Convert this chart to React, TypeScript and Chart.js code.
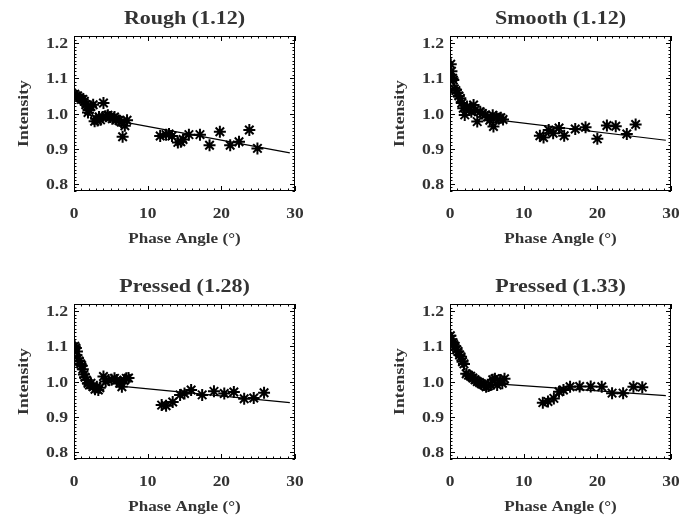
import React, { useEffect, useRef } from "react";
import { Chart, registerables } from "chart.js";

Chart.register(...registerables);

// ---------- data ----------
const X_TICKS = [0, 10, 20, 30];
const Y_TICKS = [0.8, 0.9, 1.0, 1.1, 1.2];
const X_TITLE = "Phase Angle (°)";
const Y_TITLE = "Intensity";

const roughTitle = "Rough (1.12)";
const roughX = [0.1, 0.3, 0.5, 0.8, 1.0, 1.2, 1.4, 1.6, 1.8, 1.9, 2.0, 2.3, 2.6, 2.8, 3.0, 3.2, 3.4, 3.6, 3.9, 4.0, 4.3, 4.6, 4.9, 5.2, 5.5, 5.8, 6.1, 6.4, 6.6, 6.9, 7.2, 11.7, 12.5, 12.9, 13.3, 14.1, 14.5, 14.8, 15.6, 17.1, 18.4, 19.8, 21.2, 22.4, 23.8, 24.9];
const roughY = [1.055, 1.05, 1.05, 1.045, 1.04, 1.04, 1.035, 1.025, 1.02, 1.003, 1.01, 1.02, 1.025, 0.978, 0.985, 0.98, 0.99, 0.982, 0.99, 1.03, 0.992, 0.995, 0.99, 0.985, 0.99, 0.983, 0.98, 0.976, 0.934, 0.965, 0.981, 0.936, 0.94, 0.942, 0.936, 0.918, 0.92, 0.926, 0.94, 0.94, 0.91, 0.948, 0.91, 0.92, 0.953, 0.901];
const roughFitX = [7.2, 29.3];
const roughFitY = [0.974, 0.888];

const smoothTitle = "Smooth (1.12)";
const smoothX = [0.1, 0.2, 0.35, 0.45, 0.6, 0.8, 1.0, 1.2, 1.4, 1.6, 1.8, 2.0, 2.3, 2.6, 2.9, 3.2, 3.4, 3.7, 4.1, 4.4, 4.8, 5.1, 5.4, 5.8, 5.9, 6.3, 6.6, 6.9, 7.2, 12.2, 12.7, 13.4, 14.0, 14.8, 15.5, 17.0, 18.4, 20.0, 21.3, 22.5, 24.0, 25.2];
const smoothY = [1.14, 1.12, 1.1, 1.095, 1.07, 1.065, 1.058, 1.05, 1.043, 1.03, 1.015, 0.996, 1.02, 1.01, 1.005, 1.024, 1.01, 0.977, 1.005, 1.0, 0.996, 0.99, 0.981, 0.995, 0.963, 0.99, 0.985, 0.988, 0.983, 0.937, 0.932, 0.953, 0.944, 0.959, 0.937, 0.956, 0.961, 0.928, 0.966, 0.964, 0.942, 0.969];
const smoothFitX = [7.2, 29.3];
const smoothFitY = [0.98, 0.924];

const p128Title = "Pressed (1.28)";
const p128X = [0.1, 0.25, 0.4, 0.55, 0.7, 0.9, 1.05, 1.2, 1.35, 1.5, 1.7, 1.9, 2.1, 2.3, 2.6, 2.85, 3.1, 3.3, 3.5, 4.0, 4.3, 4.7, 5.1, 5.5, 5.8, 6.2, 6.5, 6.8, 7.1, 7.4, 11.9, 12.5, 13.4, 14.4, 15.0, 15.9, 17.4, 19.0, 20.4, 21.7, 23.1, 24.4, 25.8];
const p128Y = [1.1, 1.095, 1.085, 1.065, 1.058, 1.05, 1.045, 1.035, 1.02, 1.012, 1.004, 0.995, 0.99, 0.995, 0.985, 0.978, 0.985, 0.976, 0.982, 1.014, 1.0, 1.004, 1.005, 1.009, 1.004, 0.995, 0.985, 1.003, 1.009, 1.01, 0.933, 0.931, 0.942, 0.962, 0.966, 0.976, 0.962, 0.972, 0.966, 0.97, 0.951, 0.953, 0.968];
const p128FitX = [7.3, 29.3];
const p128FitY = [0.985, 0.94];

const p133Title = "Pressed (1.33)";
const p133X = [0.05, 0.2, 0.35, 0.5, 0.7, 0.9, 1.1, 1.3, 1.5, 1.7, 1.9, 2.2, 2.5, 2.8, 3.1, 3.4, 3.7, 4.0, 4.3, 4.6, 4.9, 5.2, 5.5, 5.8, 6.1, 6.4, 6.8, 7.1, 7.4, 12.6, 13.3, 14.1, 14.8, 15.4, 16.3, 17.6, 19.1, 20.6, 22.0, 23.5, 24.9, 26.1];
const p133Y = [1.13, 1.12, 1.11, 1.105, 1.1, 1.09, 1.085, 1.075, 1.07, 1.056, 1.05, 1.022, 1.018, 1.015, 1.01, 1.005, 1.0, 0.997, 0.993, 0.99, 0.985, 0.987, 0.99, 1.005, 1.008, 0.99, 1.004, 0.995, 1.008, 0.94, 0.943, 0.952, 0.971, 0.976, 0.985, 0.986, 0.986, 0.985, 0.967, 0.967, 0.985, 0.984];
const p133FitX = [7.4, 29.3];
const p133FitY = [0.992, 0.96];

const X_MIN = 0;
const X_MAX = 30;
const Y_MIN = 0.78;
const Y_MAX = 1.22;

// ---------- drawing helpers ----------
const FONT = '"Liberation Serif", "Times New Roman", serif';
const TEXT_COLOR = "#333";

function stretchText(
  ctx: CanvasRenderingContext2D,
  s: string,
  x: number,
  y: number,
  size: number,
  sx: number,
  align: CanvasTextAlign,
  angle = 0
) {
  ctx.save();
  ctx.translate(x, y);
  if (angle) ctx.rotate(angle);
  ctx.scale(sx, 1);
  ctx.font = `bold ${size}px ${FONT}`;
  ctx.fillStyle = TEXT_COLOR;
  ctx.textAlign = align;
  ctx.textBaseline = "alphabetic";
  ctx.fillText(s, 0, 0);
  ctx.restore();
}

const decorPlugin = {
  id: "decor",
  afterDraw(chart: any) {
    const ctx: CanvasRenderingContext2D = chart.ctx;
    const a = chart.chartArea;
    const xs = chart.scales.x;
    const ys = chart.scales.y;
    const title: string = chart.options.plugins.decor.title;
    ctx.save();
    ctx.strokeStyle = "#000";
    ctx.lineWidth = 1;
    ctx.strokeRect(a.left + 0.5, a.top + 0.5, a.right - a.left - 1, a.bottom - a.top - 1);

    ctx.beginPath();
    for (let v = X_MIN; v <= X_MAX + 1e-9; v += 1) {
      const px = Math.round(xs.getPixelForValue(v)) + 0.5;
      const major = X_TICKS.some((t) => Math.abs(t - v) < 1e-6);
      const len = major ? 5 : 2.5;
      ctx.moveTo(px, a.bottom);
      ctx.lineTo(px, a.bottom - len);
      ctx.moveTo(px, a.top);
      ctx.lineTo(px, a.top + len);
    }
    for (let i = 0; i <= Math.round((Y_MAX - Y_MIN) / 0.01); i++) {
      const v = Y_MIN + i * 0.01;
      const py = Math.round(ys.getPixelForValue(v)) + 0.5;
      const major = Y_TICKS.some((t) => Math.abs(t - v) < 1e-6);
      const len = major ? 5 : 2.5;
      ctx.moveTo(a.left, py);
      ctx.lineTo(a.left + len, py);
      ctx.moveTo(a.right, py);
      ctx.lineTo(a.right - len, py);
    }
    ctx.stroke();
    ctx.restore();

    for (const t of Y_TICKS) {
      stretchText(ctx, t.toFixed(1), a.left - 6, ys.getPixelForValue(t) + 5, 14.5, 1.22, "right");
    }
    for (const t of X_TICKS) {
      stretchText(ctx, String(t), xs.getPixelForValue(t), a.bottom + 27, 14.5, 1.2, "center");
    }
    const cx = (a.left + a.right) / 2;
    const cy = (a.top + a.bottom) / 2;
    stretchText(ctx, X_TITLE, cx, a.bottom + 52, 14.5, 1.18, "center");
    stretchText(ctx, Y_TITLE, a.left - 46, cy, 14.5, 1.22, "center", -Math.PI / 2);
    stretchText(ctx, title, cx, a.top - 12, 19, 1.16, "center");
  },
};

type PanelProps = {
  title: string;
  xs: number[];
  ys: number[];
  fitX: number[];
  fitY: number[];
  left: number;
  top: number;
};

function Panel({ title, xs, ys, fitX, fitY, left, top }: PanelProps) {
  const ref = useRef<HTMLCanvasElement | null>(null);
  useEffect(() => {
    if (!ref.current) return;
    const chart = new Chart(ref.current, {
      type: "scatter",
      data: {
        datasets: [
          {
            data: xs.map((x, i) => ({ x, y: ys[i] })),
            pointStyle: "star",
            pointRadius: 6,
            pointBorderWidth: 2,
            borderColor: "#000",
            backgroundColor: "#000",
            showLine: false,
          },
          {
            data: fitX.map((x, i) => ({ x, y: fitY[i] })),
            showLine: true,
            pointRadius: 0,
            borderColor: "#000",
            borderWidth: 1.2,
            fill: false,
          },
        ],
      },
      options: {
        animation: false,
        responsive: false,
        maintainAspectRatio: false,
        devicePixelRatio: 1,
        events: [],
        layout: { padding: { left: 74, top: 36, right: 20, bottom: 59 } },
        scales: {
          x: { type: "linear", min: X_MIN, max: X_MAX, display: false },
          y: { type: "linear", min: Y_MIN, max: Y_MAX, display: false },
        },
        plugins: {
          legend: { display: false },
          tooltip: { enabled: false },
          title: { display: false },
          decor: { title },
        } as any,
      },
      plugins: [decorPlugin],
    });
    return () => chart.destroy();
  }, [title, xs, ys, fitX, fitY]);
  return (
    <canvas
      ref={ref}
      width={315}
      height={250}
      style={{ position: "absolute", left, top, width: 315, height: 250 }}
    />
  );
}

export default function App() {
  return (
    <div
      style={{
        position: "fixed",
        left: 0,
        top: 0,
        width: 695,
        height: 520,
        background: "#fff",
        overflow: "hidden",
      }}
    >
      <Panel title={roughTitle} xs={roughX} ys={roughY} fitX={roughFitX} fitY={roughFitY} left={0} top={0} />
      <Panel title={smoothTitle} xs={smoothX} ys={smoothY} fitX={smoothFitX} fitY={smoothFitY} left={376} top={0} />
      <Panel title={p128Title} xs={p128X} ys={p128Y} fitX={p128FitX} fitY={p128FitY} left={0} top={268} />
      <Panel title={p133Title} xs={p133X} ys={p133Y} fitX={p133FitX} fitY={p133FitY} left={376} top={268} />
    </div>
  );
}
